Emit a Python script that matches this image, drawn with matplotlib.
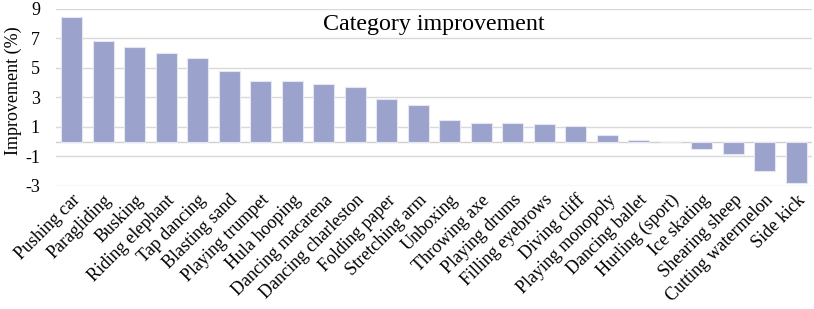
import matplotlib
matplotlib.use("Agg")
import matplotlib.pyplot as plt

categories = ["Pushing car", "Paragliding", "Busking", "Riding elephant", "Tap dancing",
              "Blasting sand", "Playing trumpet", "Hula hooping", "Dancing macarena",
              "Dancing charleston", "Folding paper", "Stretching arm", "Unboxing",
              "Throwing axe", "Playing drums", "Filling eyebrows", "Diving cliff",
              "Playing monopoly", "Dancing ballet", "Hurling (sport)", "Ice skating",
              "Shearing sheep", "Cutting watermelon", "Side kick"]
values = [8.42, 6.79, 6.39, 5.98, 5.69, 4.78, 4.11, 4.08, 3.88, 3.70, 2.89, 2.48, 1.49,
          1.29, 1.29, 1.20, 1.07, 0.47, 0.09, 0.0, -0.51, -0.81, -2.0, -2.79]
yticks = [-3, -1, 1, 3, 5, 7, 9]

plt.rcParams['font.family'] = ['Liberation Serif', 'DejaVu Serif']

W, H = 814, 309
fig = plt.figure(figsize=(W/100, H/100), dpi=100)
ax = fig.add_axes([56/W, 1-186/H, (812-56)/W, (186-8.7)/H])

x = list(range(len(categories)))
ax.bar(x, values, width=0.68, color='#9ba3cc', edgecolor='#e4e6f2', linewidth=0.8, zorder=3)
ax.set_xlim(-0.5, len(categories)-0.5)
ax.set_ylim(-3, 9)
ax.set_yticks(yticks)
ax.set_yticklabels([str(t) for t in yticks], fontsize=13)
ax.grid(axis='y', color='#d9d9d9', linewidth=1, zorder=0)
ax.axhline(0, color='#d0d0d0', linewidth=1, zorder=2)
for s in ax.spines.values():
    s.set_visible(False)
ax.tick_params(axis='y', length=0, pad=11.5)
ax.tick_params(axis='x', length=0, pad=4)
ax.set_xticks(x)
ax.set_xticklabels(categories, rotation=45, ha='right', rotation_mode='anchor', fontsize=13)
fig.text(13/W, 1-91/H, 'Improvement (%)', rotation=90, ha='center', va='center', fontsize=13)
ax.text(0.5, (186-30)/(186-8.7), 'Category improvement', transform=ax.transAxes,
        ha='center', va='baseline', fontsize=17.3)

fig.savefig('out.png', dpi=100)
